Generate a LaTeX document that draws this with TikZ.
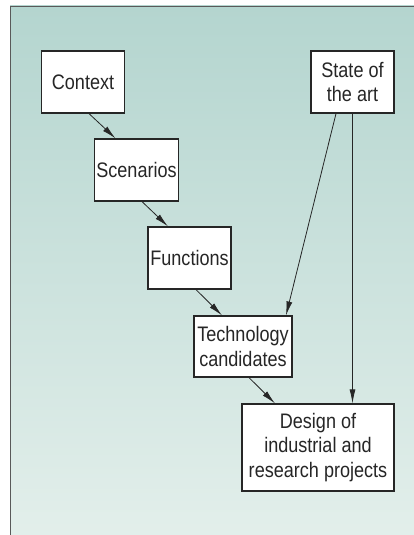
\documentclass[tikz,border=0pt]{standalone}
\usepackage{fontspec}
\setmainfont{Liberation Sans}[FakeStretch=0.86]
\usetikzlibrary{arrows.meta}
\definecolor{topteal}{RGB}{180,213,207}
\definecolor{bottomteal}{RGB}{227,239,235}
\begin{document}
\begin{tikzpicture}
    [x=1pt,y=-1pt,
    box/.style = {draw=black!85, line width=1.2pt, fill=white,
                  align=center, inner sep=2pt,
                  minimum width=83pt, minimum height=62pt,
                  font=\fontsize{21}{24.5}\selectfont, text=black!85},
    link/.style = {-{Latex[length=14pt,width=6pt]}, line width=0.8pt, black!85}]
    \useasboundingbox (0,0) rectangle (414,535);
    % Fondo
    \shade[top color=topteal, bottom color=bottomteal] (10,6) rectangle (420,540);
    \draw[black!65, line width=0.8pt] (10,540) -- (10,6) -- (420,6);
    % Cadena izquierda
    \node[box] (context) at (83,82) {Context};
    \node[box] (scenarios) at (136.5,170) {Scenarios};
    \node[box] (functions) at (189.5,258) {Functions};
    \node[box, minimum width=98pt, minimum height=61pt] (tech) at (243,346.5) {Technology\\candidates};
    % Estado del arte
    \node[box] (state) at (352.5,82) {State of\\the art};
    % Proyectos
    \node[box, minimum width=152pt, minimum height=87pt] (design) at (318,447.5) {Design of\\industrial and\\research projects};
    \draw[link] ([xshift=6pt]context.south) -- ([xshift=-21pt]scenarios.north);
    \draw[link] ([xshift=5.5pt]scenarios.south) -- ([xshift=-21.5pt]functions.north);
    \draw[link] ([xshift=6.5pt]functions.south) -- ([xshift=-21pt]tech.north);
    \draw[link] ([xshift=6pt]tech.south) -- ([xshift=-43pt]design.north);
    \draw[link] ([xshift=-16.5pt]state.south) -- ([xshift=43pt]tech.north);
    \draw[link] (state.south) -- (state.south |- design.north);
\end{tikzpicture}
\end{document}
